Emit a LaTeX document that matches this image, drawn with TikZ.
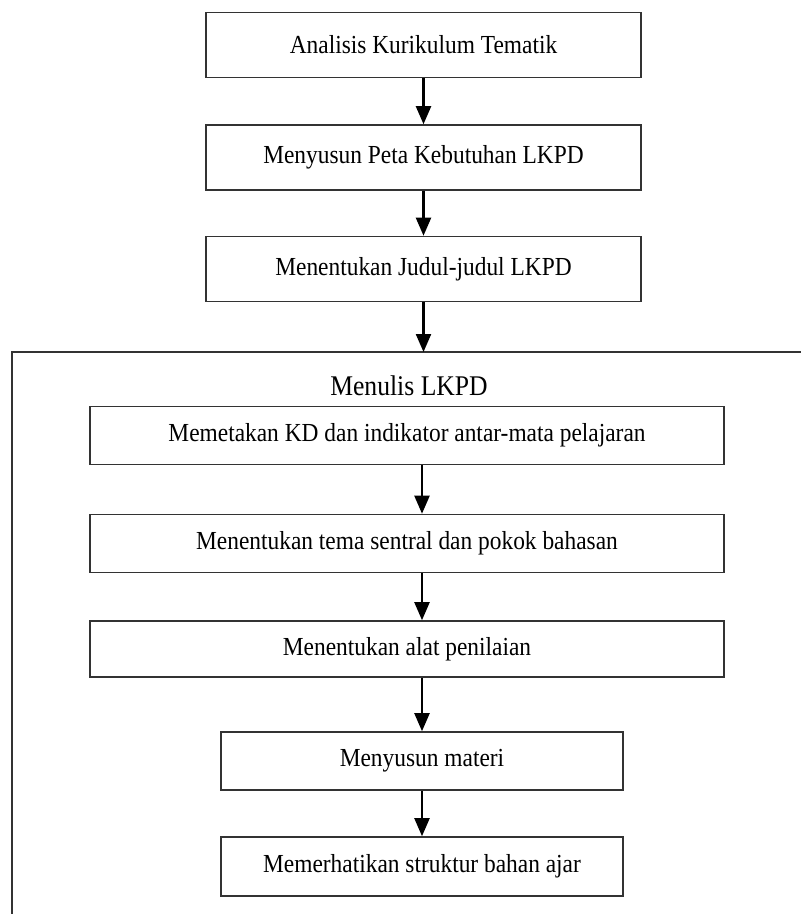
\documentclass[tikz,border=0pt]{standalone}
\usepackage{fontspec}
\setmainfont{Liberation Serif}[FakeStretch=0.9]
\usetikzlibrary{arrows.meta}
\begin{document}
\begin{tikzpicture}[x=1pt,y=-1pt,
  stepbox/.style={draw=black!80,line width=1.6pt,fill=white,inner sep=0pt,
    font=\fontsize{26}{29}\selectfont},
  wide/.style={stepbox,minimum width=435pt,minimum height=65pt},
  inner/.style={stepbox,minimum width=634pt,minimum height=58pt},
  narrow/.style={stepbox,minimum width=402pt,minimum height=58pt},
  flow/.style={draw=black,line width=2.2pt,-{Triangle[width=15pt,length=18pt]}},
  frame/.style={draw=black!80,line width=1.6pt}]
\useasboundingbox (0,0) rectangle (801,914);

% upper steps
\node[wide] (s1) at (423.5,45) {Analisis Kurikulum Tematik};
\node[wide] (s2) at (423.5,157.5) {Menyusun Peta Kebutuhan LKPD};
\node[wide] (s3) at (423.5,269) {Menentukan Judul-judul LKPD};

% open frame around the writing stage
\draw[frame] (801,352) -- (12,352) -- (12,914);
\coordinate (ftop) at (423.5,352);
\node[anchor=base,font=\fontsize{28.5}{31}\selectfont] (title) at (409,395) {Menulis LKPD};

% writing sub-steps
\node[inner] (w1) at (407,435.5) {Memetakan KD dan indikator antar-mata pelajaran};
\node[inner] (w2) at (407,543.5) {Menentukan tema sentral dan pokok bahasan};
\node[inner,minimum height=56pt] (w3) at (407,649) {Menentukan alat penilaian};
\node[narrow] (w4) at (422,761) {Menyusun materi};
\node[narrow,minimum height=59pt] (w5) at (422,866.5) {Memerhatikan struktur bahan ajar};

% connectors
\draw[flow] (s1) -- (s2);
\draw[flow] (s2) -- (s3);
\draw[flow] (s3) -- (ftop);
\draw[flow] (w1.south -| w4) -- (w2.north -| w4);
\draw[flow] (w2.south -| w4) -- (w3.north -| w4);
\draw[flow] (w3.south -| w4) -- (w4.north);
\draw[flow] (w4) -- (w5);
\end{tikzpicture}
\end{document}
